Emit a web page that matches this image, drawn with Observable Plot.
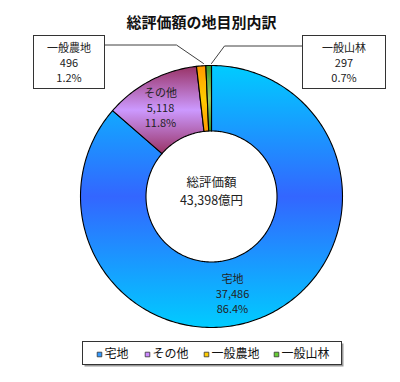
<!DOCTYPE html>
<html><head><meta charset="utf-8">
<script src="https://cdn.jsdelivr.net/npm/d3@7"></script>
<script src="https://cdn.jsdelivr.net/npm/@observablehq/plot@0.6"></script>
<style>body{margin:0;background:#fff}svg{display:block}</style>
</head><body><div id="chart"></div>
<script>
// ---- data ----
const categories = ["宅地", "その他", "一般農地", "一般山林"];
const values = [37486, 5118, 496, 297];
const valueLabels = ["37,486", "5,118", "496", "297"];
const percentLabels = ["86.4%", "11.8%", "1.2%", "0.7%"];
const totalLabel = "43,398億円";
const titleText = "総評価額の地目別内訳";
const centerTitle = "総評価額";

// ---- style / layout ----
const gradStops = [["#00CCFF", "#3366FF"], ["#993366", "#CC99FF"], ["#FF9900", "#FFCC00"], ["#339933", "#99CC66"]];
const legendColors = ["#3399FF", "#CC88FF", "#FFCC00", "#66CC33"];
const CX = 211, CY = 196, R = 131, INNER = 0.5;
const ux = px => (px - CX) / R, uy = py => (CY - py) / R;
const font = "'Noto Sans CJK JP', 'Noto Sans', sans-serif";

// pie angles (clockwise from top)
const total = d3.sum(values);
let acc = 0;
const slices = values.map((v, i) => {
  const a0 = acc / total * 2 * Math.PI; acc += v;
  const a1 = acc / total * 2 * Math.PI;
  return {i, a0, a1};
});
function slicePoly(s) {
  const n = Math.max(2, Math.ceil((s.a1 - s.a0) / (Math.PI / 180)));
  const pts = [];
  for (let k = 0; k <= n; k++) { const a = s.a0 + (s.a1 - s.a0) * k / n; pts.push({x: Math.sin(a), y: Math.cos(a)}); }
  for (let k = n; k >= 0; k--) { const a = s.a0 + (s.a1 - s.a0) * k / n; pts.push({x: INNER * Math.sin(a), y: INNER * Math.cos(a)}); }
  pts.push(pts[0]);
  return pts;
}

const inLabels = [
  {i: 0, x: ux(232), y: uy(293)},
  {i: 1, x: ux(160), y: uy(107)}
].map(d => ({...d, text: `${categories[d.i]}\n${valueLabels[d.i]}\n${percentLabels[d.i]}`}));

const callouts = [
  {i: 2, box: [33.5, 35.5, 104.5, 88.5], tx: 68.5, line: [[104.5, 44.5], [176, 44.5], [203, 63]]},
  {i: 3, box: [302.5, 35.5, 385.5, 88.5], tx: 343.5, line: [[302.5, 45.5], [224, 45.5], [211, 63]]}
];
const calloutRects = callouts.map(c => ({x1: ux(c.box[0]), y1: uy(c.box[1]), x2: ux(c.box[2]), y2: uy(c.box[3])}));
const calloutText = callouts.map(c => ({x: ux(c.tx), y: uy(62), text: `${categories[c.i]}\n${valueLabels[c.i]}\n${percentLabels[c.i]}`}));
const calloutLines = callouts.flatMap((c, j) => c.line.map(p => ({x: ux(p[0]), y: uy(p[1]), k: j})));

const legendMarkX = [99, 147, 206, 276];
const legendItems = categories.map((c, i) => ({c, i, mx: ux(legendMarkX[i]), tx: ux(legendMarkX[i] + 5), y: uy(354)}));

const marks = [];
slices.forEach(s => {
  marks.push(Plot.line(slicePoly(s), {x: "x", y: "y", fill: `url(#g${s.i})`, stroke: "#000", strokeWidth: 1.1, curve: "linear"}));
});
marks.push(
  Plot.text([titleText], {x: ux(201), y: uy(23), text: d => d, fontSize: 15, fontWeight: "bold", fill: "#111"}),
  Plot.text([centerTitle], {x: ux(211), y: uy(182), text: d => d, fontSize: 12.5, fill: "#222"}),
  Plot.text([totalLabel], {x: ux(211), y: uy(200), text: d => d, fontSize: 12.5, fill: "#222"}),
  Plot.text(inLabels, {x: "x", y: "y", text: "text", fontSize: 11, lineHeight: 1.36, fill: "#222"}),
  Plot.line(calloutLines, {x: "x", y: "y", z: "k", stroke: "#404040", strokeWidth: 1}),
  Plot.rect(calloutRects, {x1: "x1", x2: "x2", y1: "y1", y2: "y2", fill: "#fff", stroke: "#333", strokeWidth: 1}),
  Plot.text(calloutText, {x: "x", y: "y", text: "text", fontSize: 11, lineHeight: 1.36, fill: "#222"}),
  // legend
  Plot.rect([0], {x1: ux(84.5), x2: ux(343.5), y1: uy(343.5), y2: uy(366.5), fill: "#999"}),
  Plot.rect([0], {x1: ux(82.5), x2: ux(341.5), y1: uy(341.5), y2: uy(364.5), fill: "#fff", stroke: "#333", strokeWidth: 1}),
  Plot.dot(legendItems, {x: "mx", y: "y", symbol: "square", r: 2.6, fill: d => legendColors[d.i], stroke: "#333", strokeWidth: 0.8}),
  Plot.text(legendItems, {x: "tx", y: "y", text: "c", textAnchor: "start", fontSize: 12, fill: "#111"})
);

const chart = Plot.plot({
  width: 400, height: 382, margin: 0,
  x: {domain: [-1, 1], range: [CX - R, CX + R], axis: null},
  y: {domain: [-1, 1], range: [CY + R, CY - R], axis: null},
  style: {fontFamily: font, background: "#fff"},
  marks
});

// gradient defs
const ns = "http://www.w3.org/2000/svg";
const defs = document.createElementNS(ns, "defs");
gradStops.forEach((g, i) => {
  const lg = document.createElementNS(ns, "linearGradient");
  lg.setAttribute("id", "g" + i);
  lg.setAttribute("x1", "0"); lg.setAttribute("y1", "0"); lg.setAttribute("x2", "0"); lg.setAttribute("y2", "1");
  [[0, g[0]], [0.5, g[1]], [1, g[0]]].forEach(([o, c]) => {
    const st = document.createElementNS(ns, "stop");
    st.setAttribute("offset", o); st.setAttribute("stop-color", c);
    lg.appendChild(st);
  });
  defs.appendChild(lg);
});
chart.insertBefore(defs, chart.firstChild);
document.getElementById("chart").appendChild(chart);
</script></body></html>
